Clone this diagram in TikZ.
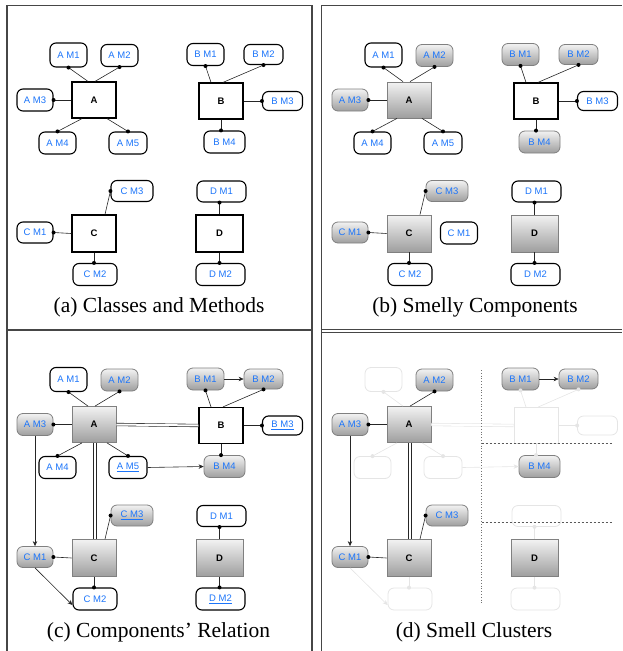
\documentclass[tikz,border=0pt]{standalone}
\usepackage{fontspec}
\setmainfont{Liberation Serif}
\newfontfamily\lsans{Liberation Sans}
\usetikzlibrary{arrows.meta}
\definecolor{mblue}{RGB}{28,117,250}
\definecolor{framec}{RGB}{70,70,70}
\begin{document}
\begin{tikzpicture}[x=1pt,y=-1pt,
  meth/.style={draw=black, line width=1.1pt, rounded corners=6pt, fill=white, font=\lsans\fontsize{9.5}{10}\selectfont, text=mblue, inner sep=0pt, minimum height=22pt},
  cls/.style={draw=black, line width=1.2pt, fill=white, font=\lsans\bfseries\fontsize{9.5}{10}\selectfont, inner sep=0pt, minimum width=44pt, minimum height=36pt},
  smelly/.style={draw=black!50, line width=0.8pt, top color=black!5, bottom color=black!38},
  faded/.style={draw=black!10, line width=0.8pt},
  link/.style={draw=black!85, line width=0.6pt},
  fade/.style={draw=black!10, line width=0.6pt},
  dot/.style={circle, fill=black, inner sep=0pt, minimum size=4pt},
  fdot/.style={circle, fill=black!10, inner sep=0pt, minimum size=4pt},
  rel/.style={-{Stealth[length=5pt,width=4.5pt]}},
  dbl/.style={line width=0.6pt, double, double distance=2pt},
  fr/.style={draw=framec, line width=1.1pt},
  captxt/.style={font=\fontsize{21.5}{24}\selectfont, inner sep=0pt},
  hsep/.style={draw=black!65, line width=0.7pt, dash pattern=on 2.5pt off 1.5pt},
  vsep/.style={draw=black!55, line width=0.8pt, dash pattern=on 1pt off 1.8pt},
]
\useasboundingbox (0,0) rectangle (622,651);
% frames
\draw[fr] (7,651) -- (7,5.5) -- (312,5.5) -- (312,651);
\draw[fr, line width=1.8pt] (7,330) -- (312,330);
\draw[fr] (321.5,651) -- (321.5,5.5) -- (622,5.5);
\draw[fr, line width=0.9pt] (321.5,329.3) -- (622,329.3);
\draw[fr, line width=0.9pt] (321.5,332.3) -- (622,332.3);

% ================= (a) =================
\begin{scope}
\node[meth, minimum width=37pt, minimum height=24pt] (aAM1) at (68.5,55) {A M1};
\node[meth, minimum width=37pt] (aAM2) at (119.5,55.5) {A M2};
\node[cls] (aA) at (94,100) {A};
\node[meth, minimum width=36pt] (aAM3) at (35,100) {A M3};
\node[meth, minimum width=37pt] (aAM4) at (57.5,143) {A M4};
\node[meth, minimum width=38pt] (aAM5) at (128,143) {A M5};
\node[meth, minimum width=37pt] (aBM1) at (205.5,54.5) {B M1};
\node[meth, minimum width=39pt, minimum height=20pt] (aBM2) at (263.5,54.5) {B M2};
\node[cls] (aB) at (221,101) {B};
\node[meth, minimum width=40pt, minimum height=19pt] (aBM3) at (282.5,101) {B M3};
\node[meth, minimum width=41pt] (aBM4) at (224.5,142) {B M4};
\node[meth, minimum width=42pt, minimum height=21pt] (aCM3) at (132,191) {C M3};
\node[cls, minimum height=37pt] (aC) at (94,233.5) {C};
\node[meth, minimum width=36pt, minimum height=21pt] (aCM1) at (35,232.5) {C M1};
\node[meth, minimum width=44pt] (aCM2) at (95,274.5) {C M2};
\node[meth, minimum width=49pt, minimum height=21pt] (aDM1) at (221.5,191.5) {D M1};
\node[cls, minimum width=47pt, minimum height=37pt] (aD) at (219.5,233.5) {D};
\node[meth, minimum width=49pt] (aDM2) at (220.5,274.5) {D M2};
\draw[link] ([xshift=-6pt]aA.north) -- (aAM1.south) node[dot]{};
\draw[link] ([xshift=1pt]aA.north) -- (aAM2.south) node[dot]{};
\draw[link] (aA.west) -- (aAM3.east) node[dot]{};
\draw[link] ([xshift=-12pt]aA.south) -- (aAM4.north) node[dot]{};
\draw[link] ([xshift=13pt]aA.south) -- (aAM5.north) node[dot]{};
\draw[link] ([xshift=-10pt]aB.north) -- (aBM1.south) node[dot]{};
\draw[link] ([xshift=2pt]aB.north) -- (aBM2.south) node[dot]{};
\draw[link] (aB.east) -- (aBM3.west) node[dot]{};
\draw[link] (aB.south) -- (aB.south |- aBM4.north) node[dot]{};
\draw[link] ([xshift=11pt]aC.north) -- (aCM3.west) node[dot]{};
\draw[link] (aC.west) -- (aCM1.east) node[dot]{};
\draw[link] (aC.south) -- (aC.south |- aCM2.north) node[dot]{};
\draw[link] (aD.north) -- (aD.north |- aDM1.south) node[dot]{};
\draw[link] (aD.south) -- (aD.south |- aDM2.north) node[dot]{};
\node[captxt] (capa) at (159,307) {(a) Classes and Methods};
\end{scope}

% ================= (b) =================
\begin{scope}[shift={(315,0)}]
\node[meth, minimum width=37pt, minimum height=24pt] (bAM1) at (68.5,55) {A M1};
\node[meth, smelly, minimum width=37pt] (bAM2) at (119.5,55.5) {A M2};
\node[cls, smelly] (bA) at (94,100) {A};
\node[meth, smelly, minimum width=36pt] (bAM3) at (35,100) {A M3};
\node[meth, minimum width=37pt] (bAM4) at (57.5,143) {A M4};
\node[meth, minimum width=38pt] (bAM5) at (128,143) {A M5};
\node[meth, smelly, minimum width=37pt] (bBM1) at (205.5,54.5) {B M1};
\node[meth, smelly, minimum width=39pt, minimum height=20pt] (bBM2) at (263.5,54.5) {B M2};
\node[cls] (bB) at (221,101) {B};
\node[meth, minimum width=40pt, minimum height=19pt] (bBM3) at (282.5,101) {B M3};
\node[meth, smelly, minimum width=41pt] (bBM4) at (224.5,142) {B M4};
\node[meth, smelly, minimum width=42pt, minimum height=21pt] (bCM3) at (132,191) {C M3};
\node[cls, smelly, minimum height=37pt] (bC) at (94,233.5) {C};
\node[meth, smelly, minimum width=36pt, minimum height=21pt] (bCM1) at (35,232.5) {C M1};
\node[meth, minimum width=37pt] (bCM1x) at (144,233) {C M1};
\node[meth, minimum width=44pt] (bCM2) at (95,274.5) {C M2};
\node[meth, minimum width=49pt, minimum height=21pt] (bDM1) at (221.5,191.5) {D M1};
\node[cls, smelly, minimum width=47pt, minimum height=37pt] (bD) at (219.5,233.5) {D};
\node[meth, minimum width=49pt] (bDM2) at (220.5,274.5) {D M2};
\draw[link] ([xshift=-6pt]bA.north) -- (bAM1.south) node[dot]{};
\draw[link] ([xshift=1pt]bA.north) -- (bAM2.south) node[dot]{};
\draw[link] (bA.west) -- (bAM3.east) node[dot]{};
\draw[link] ([xshift=-12pt]bA.south) -- (bAM4.north) node[dot]{};
\draw[link] ([xshift=13pt]bA.south) -- (bAM5.north) node[dot]{};
\draw[link] ([xshift=-10pt]bB.north) -- (bBM1.south) node[dot]{};
\draw[link] ([xshift=2pt]bB.north) -- (bBM2.south) node[dot]{};
\draw[link] (bB.east) -- (bBM3.west) node[dot]{};
\draw[link] (bB.south) -- (bB.south |- bBM4.north) node[dot]{};
\draw[link] ([xshift=11pt]bC.north) -- (bCM3.west) node[dot]{};
\draw[link] (bC.west) -- (bCM1.east) node[dot]{};
\draw[link] (bC.south) -- (bC.south |- bCM2.north) node[dot]{};
\draw[link] (bD.north) -- (bD.north |- bDM1.south) node[dot]{};
\draw[link] (bD.south) -- (bD.south |- bDM2.north) node[dot]{};
\node[captxt] (capb) at (160,307) {(b) Smelly Components};
\end{scope}

% ================= (c) =================
\begin{scope}[shift={(0,324.5)}]
\node[meth, minimum width=37pt, minimum height=24pt] (cAM1) at (68.5,55) {A M1};
\node[meth, smelly, minimum width=37pt] (cAM2) at (119.5,55.5) {A M2};
\node[cls, smelly] (cA) at (94,100) {A};
\node[meth, smelly, minimum width=36pt] (cAM3) at (35,100) {A M3};
\node[meth, minimum width=37pt] (cAM4) at (57.5,143) {A M4};
\node[meth, minimum width=38pt] (cAM5) at (128,143) {\underline{A M5}};
\node[meth, smelly, minimum width=37pt] (cBM1) at (205.5,54.5) {B M1};
\node[meth, smelly, minimum width=39pt, minimum height=20pt] (cBM2) at (263.5,54.5) {B M2};
\node[cls] (cB) at (221,101) {B};
\node[meth, minimum width=40pt, minimum height=19pt] (cBM3) at (282.5,101) {\underline{B M3}};
\node[meth, smelly, minimum width=41pt] (cBM4) at (224.5,142) {B M4};
\node[meth, smelly, minimum width=42pt, minimum height=21pt] (cCM3) at (132,191) {\underline{C M3}};
\node[cls, smelly, minimum height=37pt] (cC) at (94,233.5) {C};
\node[meth, smelly, minimum width=36pt, minimum height=21pt] (cCM1) at (35,232.5) {C M1};
\node[meth, minimum width=44pt] (cCM2) at (95,274.5) {C M2};
\node[meth, minimum width=49pt, minimum height=21pt] (cDM1) at (221.5,191.5) {D M1};
\node[cls, smelly, minimum width=47pt, minimum height=37pt] (cD) at (219.5,233.5) {D};
\node[meth, minimum width=49pt] (cDM2) at (220.5,274.5) {\underline{D M2}};
\draw[link] ([xshift=-6pt]cA.north) -- (cAM1.south) node[dot]{};
\draw[link] ([xshift=1pt]cA.north) -- (cAM2.south) node[dot]{};
\draw[link] (cA.west) -- (cAM3.east) node[dot]{};
\draw[link] ([xshift=-12pt]cA.south) -- (cAM4.north) node[dot]{};
\draw[link] ([xshift=13pt]cA.south) -- (cAM5.north) node[dot]{};
\draw[link] ([xshift=-10pt]cB.north) -- (cBM1.south) node[dot]{};
\draw[link] ([xshift=2pt]cB.north) -- (cBM2.south) node[dot]{};
\draw[link] (cB.east) -- (cBM3.west) node[dot]{};
\draw[link] (cB.south) -- (cB.south |- cBM4.north) node[dot]{};
\draw[link] ([xshift=11pt]cC.north) -- (cCM3.west) node[dot]{};
\draw[link] (cC.west) -- (cCM1.east) node[dot]{};
\draw[link] (cC.south) -- (cC.south |- cCM2.north) node[dot]{};
\draw[link] (cD.north) -- (cD.north |- cDM1.south) node[dot]{};
\draw[link] (cD.south) -- (cD.south |- cDM2.north) node[dot]{};
\draw[link, dbl] (cA.east) -- (cB.west);
\draw[link, dbl] ([xshift=1pt]cA.south) -- ([xshift=1pt]cC.north);
\draw[link, rel] (cBM1.east) -- (cBM2.west);
\draw[link, rel] (cAM5.east) -- (cBM4.west);
\draw[link, rel] (cAM3.south) -- (cCM1.north);
\draw[link, rel] (cCM1.south) -- ([yshift=-6pt]cCM2.west);
\node[captxt] (capc) at (158.5,307.5) {(c) Components’ Relation};
\end{scope}

% ================= (d) =================
\begin{scope}[shift={(315,324.5)}]
\node[meth, faded, minimum width=37pt, minimum height=24pt] (dAM1) at (68.5,55) {};
\node[meth, smelly, minimum width=37pt] (dAM2) at (119.5,55.5) {A M2};
\node[cls, smelly] (dA) at (94,100) {A};
\node[meth, smelly, minimum width=36pt] (dAM3) at (35,100) {A M3};
\node[meth, faded, minimum width=37pt] (dAM4) at (57.5,143) {};
\node[meth, faded, minimum width=38pt] (dAM5) at (128,143) {};
\node[meth, smelly, minimum width=37pt] (dBM1) at (205.5,54.5) {B M1};
\node[meth, smelly, minimum width=39pt, minimum height=20pt] (dBM2) at (263.5,54.5) {B M2};
\node[cls, faded] (dB) at (221,101) {};
\node[meth, faded, minimum width=40pt, minimum height=19pt] (dBM3) at (282.5,101) {};
\node[meth, smelly, minimum width=41pt] (dBM4) at (224.5,142) {B M4};
\node[meth, smelly, minimum width=42pt, minimum height=21pt] (dCM3) at (132,191) {C M3};
\node[cls, smelly, minimum height=37pt] (dC) at (94,233.5) {C};
\node[meth, smelly, minimum width=36pt, minimum height=21pt] (dCM1) at (35,232.5) {C M1};
\node[meth, faded, minimum width=44pt] (dCM2) at (95,274.5) {};
\node[meth, faded, minimum width=49pt, minimum height=21pt] (dDM1) at (221.5,191.5) {};
\node[cls, smelly, minimum width=47pt, minimum height=37pt] (dD) at (219.5,233.5) {D};
\node[meth, faded, minimum width=49pt] (dDM2) at (220.5,274.5) {};
% faded relations
\draw[fade] ([xshift=-6pt]dA.north) -- (dAM1.south) node[fdot]{};
\draw[fade] ([xshift=-12pt]dA.south) -- (dAM4.north) node[fdot]{};
\draw[fade] ([xshift=13pt]dA.south) -- (dAM5.north) node[fdot]{};
\draw[fade] ([xshift=-10pt]dB.north) -- (dBM1.south) node[fdot]{};
\draw[fade] ([xshift=2pt]dB.north) -- (dBM2.south) node[fdot]{};
\draw[fade] (dB.east) -- (dBM3.west) node[fdot]{};
\draw[fade] (dB.south) -- (dB.south |- dBM4.north) node[fdot]{};
\draw[fade] (dC.south) -- (dC.south |- dCM2.north) node[fdot]{};
\draw[fade] (dD.north) -- (dD.north |- dDM1.south) node[fdot]{};
\draw[fade] (dD.south) -- (dD.south |- dDM2.north) node[fdot]{};
\draw[fade, dbl, draw=black!10] (dA.east) -- (dB.west);
\draw[fade, rel] (dAM5.east) -- (dBM4.west);
\draw[fade, rel] (dCM1.south) -- ([yshift=-6pt]dCM2.west);
% visible relations
\draw[link] ([xshift=1pt]dA.north) -- (dAM2.south) node[dot]{};
\draw[link] (dA.west) -- (dAM3.east) node[dot]{};
\draw[link] ([xshift=11pt]dC.north) -- (dCM3.west) node[dot]{};
\draw[link] (dC.west) -- (dCM1.east) node[dot]{};
\draw[link, dbl] ([xshift=1pt]dA.south) -- ([xshift=1pt]dC.north);
\draw[link, rel] (dBM1.east) -- (dBM2.west);
\draw[link, rel] (dAM3.south) -- (dCM1.north);
% cluster separators
\coordinate (v1) at (166.7,45.5);
\coordinate (v2) at (166.7,278.5);
\coordinate (h1) at (298,118.8);
\coordinate (h2) at (298,198.2);
\draw[vsep] (v1) -- (v2);
\draw[hsep] (v1 |- h1) -- (h1);
\draw[hsep] (v1 |- h2) -- (h2);
\node[captxt] (capd) at (159,307.5) {(d) Smell Clusters};
\end{scope}
\end{tikzpicture}
\end{document}
